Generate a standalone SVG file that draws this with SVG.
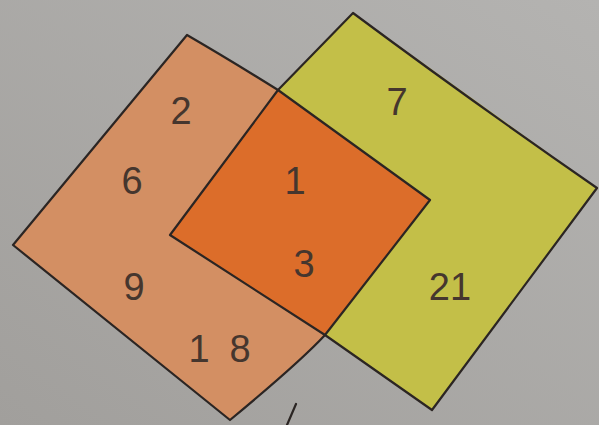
<svg xmlns="http://www.w3.org/2000/svg" width="599" height="425" viewBox="0 0 599 425">
  <defs>
    <linearGradient id="bg" x1="0" y1="1" x2="1" y2="0">
      <stop offset="0" stop-color="#a19f9c"/>
      <stop offset="1" stop-color="#b4b3b1"/>
    </linearGradient>
    <style>
      .edge { fill: none; stroke: #2b2523; stroke-width: 2.2; stroke-linejoin: round; stroke-linecap: round; }
      .num { font-family: "Liberation Sans", "DejaVu Sans", sans-serif; font-size: 38px; fill: #45362e; text-anchor: middle; }
    </style>
  </defs>
  <rect x="0" y="0" width="599" height="425" fill="url(#bg)"/>

  <g id="setA">
    <path d="M187,35 L278,90 L430,200 L325,335 Q300,362 230,420 L13,245 Z" fill="#d38f63"/>
  </g>
  <g id="setB">
    <path d="M353,13 L597,188 L432,410 L325,335 L170,235 L278,90 Z" fill="#c3bf48"/>
  </g>
  <g id="intersection">
    <path d="M278,90 L430,200 L325,335 L170,235 Z" fill="#dc6d2a"/>
  </g>

  <g id="outlines">
    <path class="edge" d="M187,35 Q230,60 278,90 L430,200 L325,335 Q300,362 230,420 L13,245 Z"/>
    <path class="edge" d="M353,13 Q470,100 597,188 L432,410 L325,335 L170,235 L278,90 Z"/>
    <path class="edge" d="M296,404 L287,425" stroke-width="1.6"/>
  </g>

  <g id="labels">
    <text class="num" x="181" y="124">2</text>
    <text class="num" x="132" y="194">6</text>
    <text class="num" x="134" y="300">9</text>
    <text class="num" y="362"><tspan x="199">1</tspan><tspan x="240">8</tspan></text>
    <text class="num" x="295" y="194">1</text>
    <text class="num" x="304" y="277">3</text>
    <text class="num" x="397" y="115">7</text>
    <text class="num" x="450" y="300">21</text>
  </g>
</svg>
